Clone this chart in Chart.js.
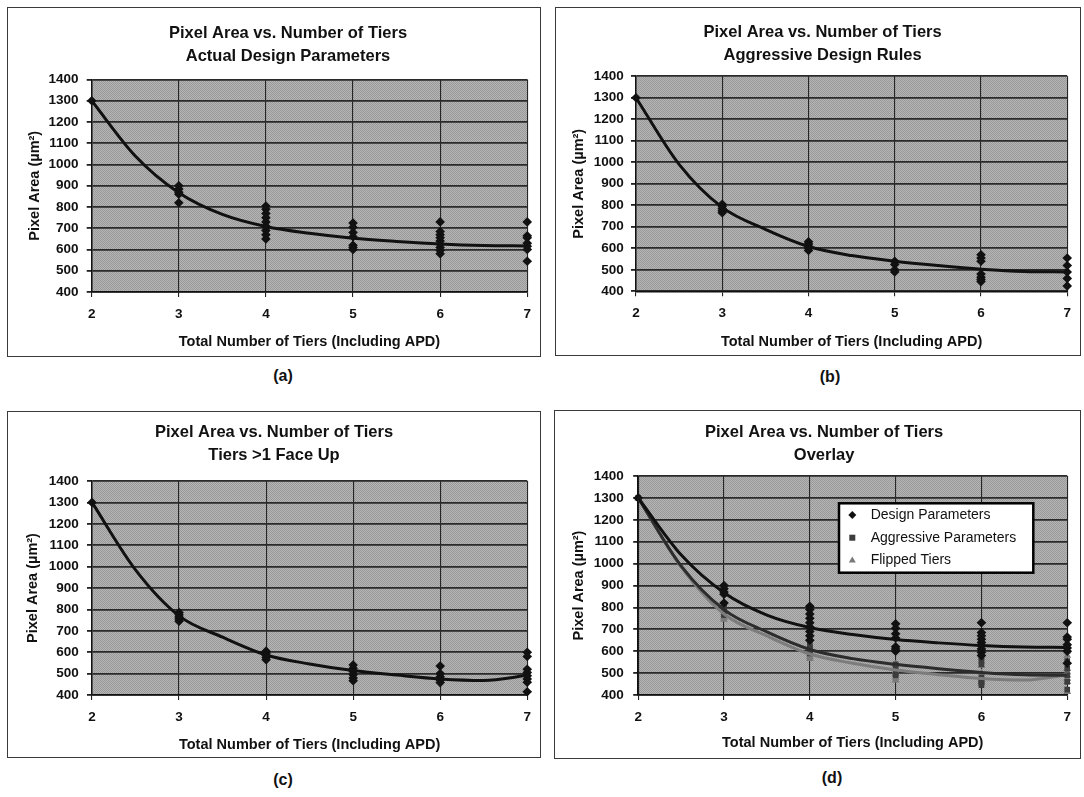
<!DOCTYPE html>
<html><head><meta charset="utf-8">
<script src="https://cdn.jsdelivr.net/npm/chart.js@4.4.1/dist/chart.umd.min.js"></script>
<style>
body{margin:0;background:#fff;width:1084px;height:797px;position:relative;overflow:hidden;font-family:'Liberation Sans',Arial,sans-serif;color:#111;}
.box{position:absolute;border:1px solid #3a3a3a;box-sizing:border-box;}
.box canvas{display:block;}
.lab{position:absolute;font-weight:bold;font-size:16px;transform:translate(-50%,-50%);white-space:nowrap;}
</style></head><body>
<div class="box" style="left:7px;top:7px;width:534px;height:350px"><canvas id="cA" width="532" height="348"></canvas></div>
<div class="box" style="left:555px;top:7px;width:526px;height:349px"><canvas id="cB" width="524" height="347"></canvas></div>
<div class="box" style="left:7px;top:411px;width:534px;height:347px"><canvas id="cC" width="532" height="345"></canvas></div>
<div class="box" style="left:554px;top:410px;width:527px;height:349px"><canvas id="cD" width="525" height="347"></canvas></div>
<div class="lab" style="left:283px;top:376px">(a)</div>
<div class="lab" style="left:830px;top:377px">(b)</div>
<div class="lab" style="left:283px;top:780px">(c)</div>
<div class="lab" style="left:832px;top:778px">(d)</div>
<script>
// ---------------- data ----------------
const tiers = [2, 3, 4, 5, 6, 7];
const designPts = [[1300], [900, 885, 870, 860, 820], [805, 790, 770, 750, 730, 710, 690, 670, 650], [725, 705, 680, 660, 620, 610, 600], [730, 685, 670, 655, 640, 625, 610, 595, 580], [730, 665, 655, 630, 615, 600, 545]];
const aggressivePts = [[1300], [805, 795, 785, 775, 765], [630, 620, 610, 600, 590], [540, 525, 500, 490], [570, 555, 540, 480, 465, 455, 445], [555, 520, 490, 460, 425]];
const flippedPts = [[1300], [785, 775, 765, 755, 745], [605, 595, 585, 575, 565], [540, 525, 510, 495, 480, 467], [535, 500, 485, 470, 458], [600, 580, 520, 505, 490, 475, 460, 415]];
const trendX = [2, 2.5, 3, 3.5, 4, 4.5, 5, 5.5, 6, 6.5, 7];
const designTrend = [1300, 1040, 867, 765, 708, 676, 653, 638, 626, 619, 617];
const aggressiveTrend = [1300, 990, 790, 688, 608, 566, 540, 520, 503, 492, 490];
const flippedTrend = [1300, 985, 770, 670, 587, 545, 514, 493, 475, 468, 492];
const seriesNames = ['Design Parameters', 'Aggressive Parameters', 'Flipped Tiers'];
const titleMain = 'Pixel Area vs. Number of Tiers';
const subTitles = ['Actual Design Parameters', 'Aggressive Design Rules', 'Tiers >1 Face Up', 'Overlay'];
const xTitle = 'Total Number of Tiers (Including APD)';
const yTitle = 'Pixel Area (\u00B5m\u00B2)';

// ---------------- helpers ----------------
function scatterData(pts) { const out = []; tiers.forEach((t, i) => pts[i].forEach(v => out.push({x: t, y: v}))); return out; }
function trendData(vals) { return trendX.map((x, i) => ({x: x, y: vals[i]})); }

Chart.defaults.font.family = "'Liberation Sans', Arial, sans-serif";
Chart.defaults.color = '#111';

// dither-like grey pattern for plot area
const pc = document.createElement('canvas'); pc.width = 2; pc.height = 2;
const pctx = pc.getContext('2d');
pctx.fillStyle = '#b5b5b5'; pctx.fillRect(0, 0, 2, 2);
pctx.fillStyle = '#999999'; pctx.fillRect(0, 0, 1, 1); pctx.fillRect(1, 1, 1, 1);

const plotBg = {
  id: 'plotBg',
  beforeDraw(chart) {
    const {ctx, chartArea: a} = chart;
    ctx.save();
    ctx.fillStyle = ctx.createPattern(pc, 'repeat');
    ctx.fillRect(a.left, a.top, a.width, a.height);
    ctx.restore();
  }
};

const boxLegend = {
  id: 'boxLegend',
  afterDraw(chart, args, o) {
    if (!o || !o.show) return;
    const ctx = chart.ctx;
    ctx.save();
    ctx.fillStyle = '#fff';
    ctx.fillRect(o.x, o.y, o.w, o.h);
    ctx.lineWidth = 2.5; ctx.strokeStyle = '#000';
    ctx.strokeRect(o.x, o.y, o.w, o.h);
    const items = chart.data.datasets.filter(d => d.legendItem);
    items.forEach((d, i) => {
      const cy = o.rowY[i], cx = o.markX;
      ctx.fillStyle = d.backgroundColor;
      ctx.beginPath();
      if (d.pointStyle === 'rectRot') { ctx.moveTo(cx, cy - 4); ctx.lineTo(cx + 4, cy); ctx.lineTo(cx, cy + 4); ctx.lineTo(cx - 4, cy); }
      else if (d.pointStyle === 'rect') { ctx.rect(cx - 3, cy - 3, 6, 6); }
      else { ctx.moveTo(cx, cy - 3.5); ctx.lineTo(cx + 3.5, cy + 2.5); ctx.lineTo(cx - 3.5, cy + 2.5); }
      ctx.closePath(); ctx.fill();
      ctx.fillStyle = '#111';
      ctx.font = "14px 'Liberation Sans', Arial, sans-serif";
      ctx.textBaseline = 'middle'; ctx.textAlign = 'left';
      ctx.fillText(d.label, o.textX, cy);
    });
    ctx.restore();
  }
};

function pointsDs(label, pts, style, color, radius, order) {
  return {label: label, legendItem: true, data: scatterData(pts), pointStyle: style, pointRadius: radius,
    backgroundColor: color, pointBackgroundColor: color, pointBorderWidth: 0, borderWidth: 0, showLine: false, clip: false, order: order};
}
function trendDs(vals, color, order) {
  return {label: '', data: trendData(vals), showLine: true, pointRadius: 0, borderColor: color, borderWidth: 3,
    cubicInterpolationMode: 'monotone', fill: false, order: order};
}

function makeChart(id, g, sub, datasets, legendOpts) {
  return new Chart(document.getElementById(id), {
    type: 'scatter',
    data: {datasets: datasets},
    options: {
      responsive: false, animation: false, events: [],
      layout: {padding: {left: g.L, right: g.R, top: 0, bottom: 0}},
      plugins: {
        legend: {display: false}, tooltip: {enabled: false},
        title: {display: true, text: [titleMain, sub], color: '#111',
          font: {size: 16.5, weight: 'bold', lineHeight: 1.394}, padding: {top: g.T, bottom: g.B}},
        boxLegend: legendOpts || {show: false}
      },
      scales: {
        x: {type: 'linear', min: 2, max: 7,
          ticks: {stepSize: 1, color: '#111', font: {size: 13.5, weight: 'bold'}, padding: 9},
          grid: {color: '#262626', lineWidth: 1.1, tickLength: 5, tickColor: '#222'},
          border: {color: '#111', width: 1.5},
          title: {display: true, text: xTitle, color: '#111', font: {size: 14.5, weight: 'bold'}, padding: {top: 0, bottom: g.xt}},
          afterFit(s) { s.height = g.xH; }},
        y: {type: 'linear', min: 400, max: 1400,
          ticks: {stepSize: 100, color: '#111', font: {size: 13.5, weight: 'bold'}, padding: g.yp,
            callback: v => String(v)},
          grid: {color: '#2a2a2a', lineWidth: 1.8, tickLength: 5, tickColor: '#222'},
          border: {color: '#111', width: 1.5},
          title: {display: true, text: yTitle, color: '#111', font: {size: 14.5, weight: 'bold'}, padding: {top: g.yt, bottom: 0}},
          afterFit(s) { s.width = g.yW; }}
      }
    },
    plugins: [plotBg, boxLegend]
  });
}

const dBlack = '#111111';
makeChart('cA', {L: 38, R: 10, T: 13.5, B: 12, xH: 64, xt: 5.3, yW: 45.7, yt: -19.9, yp: 8.2}, subTitles[0], [
  trendDs(designTrend, dBlack, 0),
  pointsDs(seriesNames[0], designPts, 'rectRot', dBlack, 4.8, 1)
]);
makeChart('cB', {L: 14.2, R: 5, T: 12.8, B: 9.4, xH: 63.7, xt: 4.6, yW: 65.8, yt: 0.5, yp: 7.2}, subTitles[1], [
  trendDs(aggressiveTrend, dBlack, 0),
  pointsDs(seriesNames[1], aggressivePts, 'rectRot', dBlack, 4.8, 1)
]);
makeChart('cC', {L: 12, R: 12, T: 8.8, B: 14.2, xH: 62, xt: 3.3, yW: 72, yt: 4.3, yp: 8.2}, subTitles[2], [
  trendDs(flippedTrend, dBlack, 0),
  pointsDs(seriesNames[2], flippedPts, 'rectRot', dBlack, 4.8, 1)
]);
makeChart('cD', {L: 21.2, R: 8, T: 9.8, B: 9.2, xH: 63, xt: 6, yW: 62, yt: -5.5, yp: 9.5}, subTitles[3], [
  trendDs(designTrend, dBlack, 0),
  trendDs(aggressiveTrend, '#2c2c2c', 1),
  trendDs(flippedTrend, '#7c7c7c', 2),
  pointsDs(seriesNames[0], designPts, 'rectRot', dBlack, 4.8, 3),
  pointsDs(seriesNames[1], aggressivePts, 'rect', '#3c3c3c', 4, 4),
  pointsDs(seriesNames[2], flippedPts, 'triangle', '#7a7a7a', 4.5, 5)
], {show: true, x: 284, y: 92.3, w: 194.3, h: 69.4, markX: 297.3, textX: 315.7, rowY: [104, 126.7, 149]});
</script>
</body></html>
